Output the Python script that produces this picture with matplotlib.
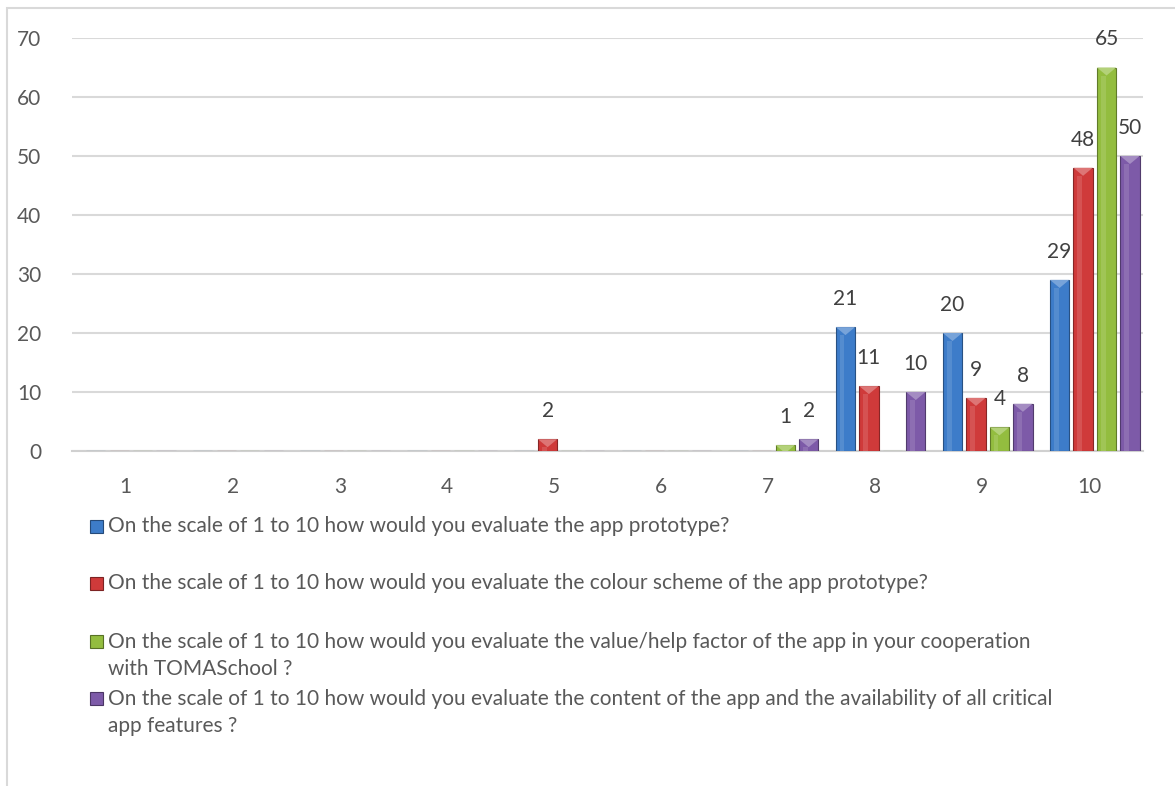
import numpy as np
import matplotlib.pyplot as plt
from matplotlib.patches import Rectangle, Polygon
from matplotlib.colors import to_rgb

plt.rcParams['font.family'] = ['Lato', 'DejaVu Sans']

scores = [1, 2, 3, 4, 5, 6, 7, 8, 9, 10]
prototype = [0, 0, 0, 0, 0, 0, 0, 21, 20, 29]
colour_scheme = [0, 0, 0, 0, 2, 0, 0, 11, 9, 48]
value_help = [0, 0, 0, 0, 0, 0, 1, 0, 4, 65]
content = [0, 0, 0, 0, 0, 0, 2, 10, 8, 50]

labels = [
    "On the scale of 1 to 10 how would you evaluate the app prototype?",
    "On the scale of 1 to 10 how would you evaluate the colour scheme of the app prototype?",
    "On the scale of 1 to 10 how would you evaluate the value/help factor of the app in your cooperation\nwith TOMASchool ?",
    "On the scale of 1 to 10 how would you evaluate the content of the app and the availability of all critical\napp features ?",
]
colors = ['#3d7cc9', '#cf3a3a', '#93bd3f', '#7d5aa8']
series = [prototype, colour_scheme, value_help, content]


def shade(c, f):
    r = np.array(to_rgb(c))
    if f > 0:
        return tuple(r + (1 - r) * f)
    return tuple(r * (1 + f))


W, H = 1175, 786
fig = plt.figure(figsize=(W / 100, H / 100), dpi=100)
ax = fig.add_axes([72 / W, 1 - 451 / H, 1071 / W, 413 / H])

# outer chart frame
fig.patches.append(Rectangle((7 / W, -0.1), 1.2, 1 - 8 / H + 0.1,
                             transform=fig.transFigure, fill=False,
                             edgecolor='#d9d9d9', linewidth=1.5))

x = np.array(scores)
step = 0.219
width = 0.18
px_per_unit = 413 / 70

for i, (vals, c) in enumerate(zip(series, colors)):
    offs = (i - 1.5) * step + 0.05
    bars = ax.bar(x + offs, vals, width, color=c,
                  edgecolor=shade(c, -0.35), linewidth=0.8, zorder=3)
    for b, v in zip(bars, vals):
        if v == 0:
            continue
        bx, bw, top = b.get_x(), b.get_width(), b.get_height()
        # bevelled cap
        th = min(8 / px_per_unit, top)
        frac = th / (8 / px_per_unit)
        tri = Polygon([(bx, top), (bx + bw, top),
                       (bx + bw / 2 + bw / 2 * (1 - frac), top - th),
                       (bx + bw / 2 - bw / 2 * (1 - frac), top - th)],
                      closed=True, facecolor=shade(c, 0.3),
                      edgecolor='none', zorder=4)
        ax.add_patch(tri)
        # side highlight
        ax.add_patch(Rectangle((bx + bw * 0.2, 0), bw * 0.25, max(top - th, 0),
                               facecolor=shade(c, 0.12), edgecolor='none',
                               zorder=4))
        ax.annotate(str(v), (bx + bw / 2, top), xytext=(0, 13),
                    textcoords='offset points', ha='center', va='bottom',
                    fontsize=15, color='#404040', annotation_clip=False)

ax.set_xlim(0.5, 10.5)
ax.set_ylim(0, 70)
ax.set_yticks(range(0, 71, 10))
ax.set_xticks(x)
ax.set_xticklabels([str(s) for s in scores])
ax.grid(axis='y', color='#d9d9d9', linewidth=1.5, zorder=0)
for s in ['top', 'right', 'left']:
    ax.spines[s].set_visible(False)
ax.spines['bottom'].set_color('#d0d0d0')
ax.spines['bottom'].set_linewidth(1.5)
ax.tick_params(axis='both', length=0, labelsize=15, labelcolor='#595959')
ax.tick_params(axis='y', pad=22)
ax.tick_params(axis='x', pad=19)

# legend entries
legend_y = [526, 583, 641, 698]
line_gap = 29
for lab, c, yp in zip(labels, colors, legend_y):
    n_extra = lab.count('\n')
    fig.patches.append(Rectangle((90 / W, 1 - (yp + 6.5) / H), 13 / W, 13 / H,
                                 transform=fig.transFigure, facecolor=c,
                                 edgecolor=shade(c, -0.4), linewidth=0.8))
    fig.text(108 / W, 1 - (yp + n_extra * line_gap / 2) / H, lab,
             ha='left', va='center', fontsize=15, color='#595959',
             linespacing=1.45)

fig.savefig('out.png', dpi=100)
